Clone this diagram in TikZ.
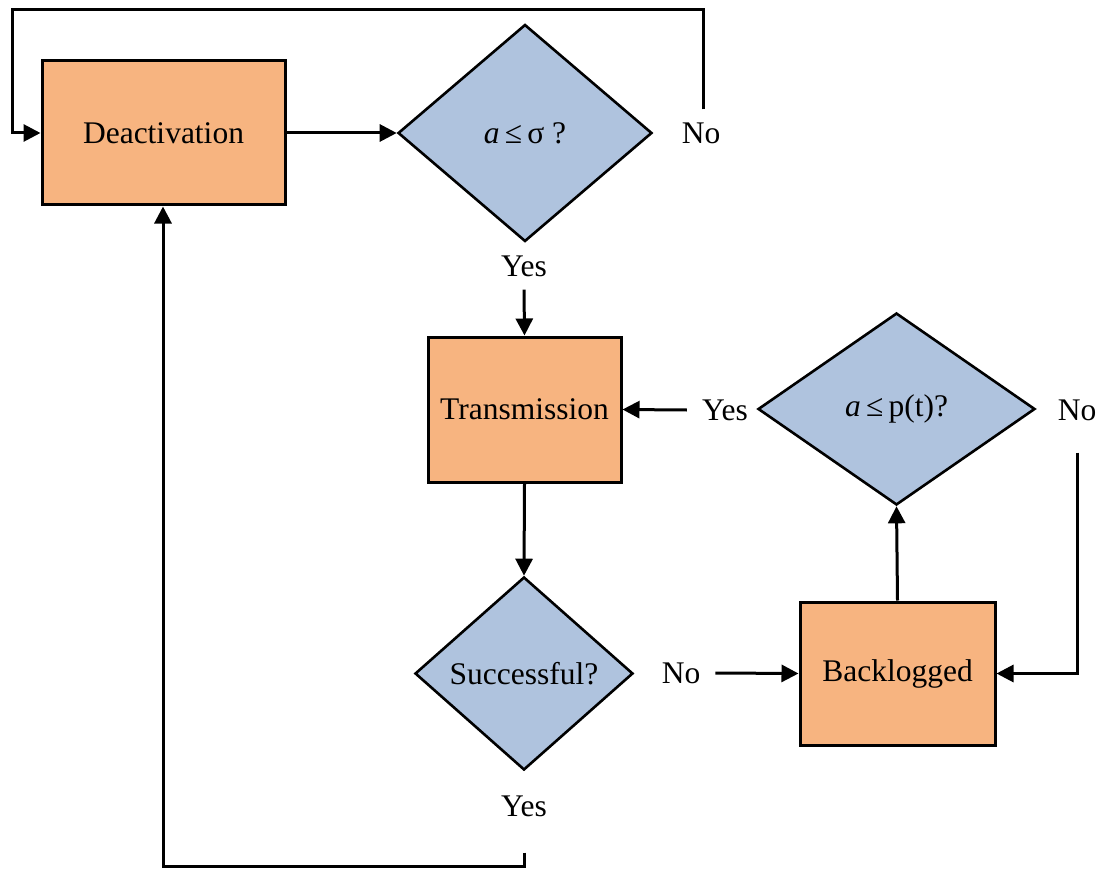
\documentclass[tikz,border=0pt]{standalone}
\usepackage{fontspec}
\setmainfont{Liberation Serif}
\usetikzlibrary{shapes.geometric,arrows.meta}
\definecolor{boxorange}{RGB}{247,180,128}
\definecolor{diablue}{RGB}{175,195,222}
\begin{document}
\begin{tikzpicture}[x=1pt,y=-1pt,
  every node/.style={font=\fontsize{31.5}{36}\selectfont},
  procbox/.style={draw=black,line width=3pt,fill=boxorange,rectangle,inner sep=0pt},
  decision/.style={draw=black,line width=2.6pt,fill=diablue,diamond,inner sep=0pt},
  lbl/.style={inner xsep=15pt,inner ysep=13pt},
  conn/.style={line width=3pt},
  arr/.style={conn,-{Triangle[length=17pt,width=17pt]}}]
\useasboundingbox (0,0) rectangle (1105,869);
% nodes
\node[procbox,minimum width=243pt,minimum height=144pt] (deact) at (163.5,133) {Deactivation};
\node[decision,minimum width=254pt,minimum height=217pt] (d1) at (525,133) {{\itshape a}\,≤\,σ ?};
\node[lbl] (no1) at (701,133) {No};
\node[lbl] (yes1) at (524,266) {Yes};
\node[procbox,minimum width=193pt,minimum height=145pt] (trans) at (524.5,409.5) {Transmission};
\node[decision,minimum width=277pt,minimum height=192pt] (d2) at (896.5,409) {{\itshape a}\,≤\,p(t)?};
\node[lbl] (yes2) at (725,410) {Yes};
\node[lbl] (no2) at (1077,410) {No};
\node[procbox,minimum width=195pt,minimum height=143pt] (back) at (897.5,673.5) {Backlogged};
\node[decision,minimum width=218pt,minimum height=193pt] (succ) at (524,673.5) {Successful?};
\node[lbl] (no3) at (681,673) {No};
\node[lbl] (yes3) at (524,806) {Yes};
% corner coordinates
\coordinate (tl) at (12,10);
\coordinate (bl) at (163,866);
% connectors
\draw[arr] (deact.east) -- (d1.west);
\draw[arr] ([xshift=2pt]no1.north) |- (tl) |- (deact.west);
\draw[arr] (yes1.south) -- (trans.north);
\draw[arr] (trans.south) -- (succ.north);
\draw[arr] (no3.east) -- (back.west);
\draw[arr] (back.north) -- (d2.south);
\draw[arr] ([yshift=-19pt]no2.south) |- (back.east);
\draw[arr] (yes2.west) -- (trans.east);
\draw[arr] ([yshift=-23pt]yes3.south) |- (bl) -- (bl |- deact.south);
\end{tikzpicture}
\end{document}
